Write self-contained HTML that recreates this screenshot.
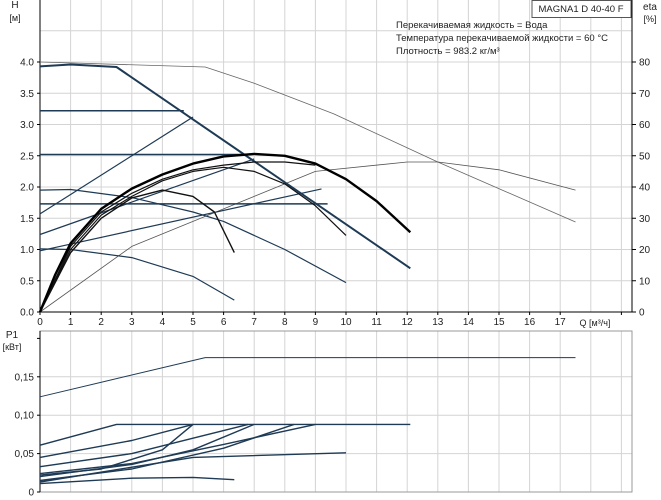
<!DOCTYPE html>
<html><head><meta charset="utf-8"><style>
body{margin:0;background:#fff;}
svg{display:block;font-family:"Liberation Sans",sans-serif;}
</style></head><body>
<svg id="c" width="661" height="500"></svg>
<script>
// ---- data ----
const qTicks=[0,1,2,3,4,5,6,7,8,9,10,11,12,13,14,15,16,17];
const hTicks=["0.0","0.5","1.0","1.5","2.0","2.5","3.0","3.5","4.0"];
const etaTicks=[0,10,20,30,40,50,60,70,80];
const pTicks=["0","0,05","0,10","0,15"];
const hMaxCurve=[[0,4.0],[5.4,3.92],[7,3.66],[9.6,3.17],[13,2.4],[17.5,1.44]];
const hDescCurve=[[0,3.93],[1,3.96],[2.5,3.92],[12.1,0.7]];
const hConst1=[[0,3.22],[4.7,3.22]];
const hConst2=[[0,2.52],[6.9,2.52]];
const hConst3=[[0,1.73],[9.4,1.73]];
const hProp1=[[0,1.57],[5,3.12]];
const hProp2=[[0,1.24],[7,2.45]];
const hProp3=[[0,0.98],[9.2,1.97]];
const hMin1=[[0,1.95],[1,1.96],[3,1.83],[5,1.6],[6,1.45],[8,1.0],[10,0.47]];
const hMin2=[[0,1.01],[1,1.0],[3,0.87],[5,0.57],[6.35,0.19]];
const etaA=[[0,0],[0.5,12],[1,22],[2,33],[3,39.5],[4,44],[5,47.5],[6,49.8],[7,50.6],[8,50],[9,47.5],[10,42.5],[11,35.5],[12.1,25.5]];
const etaB=[[0,0],[1,21],[2,32],[3,38],[4,42.5],[5,45.5],[6,47],[7,48],[8,48],[9,47]];
const etaC=[[0,0],[1,19],[2,30],[3,36.5],[4,39],[5,37],[5.7,32],[6.35,19]];
const etaD=[[0,0],[1,20],[2,31],[3,37],[4,42],[5,45],[6,46.3],[7,45],[8,41],[9,34],[10,24.5]];
const etaE=[[0,0],[3,21],[6,33],[9,45],[12,48],[13,48],[15,45.5],[17.5,39]];
const pMax=[[0,0.124],[5.4,0.175],[17.5,0.175]];
const p1=[[0,0.061],[2.5,0.088],[12.1,0.088]];
const p2=[[0,0.045],[3,0.067],[5,0.088]];
const p3=[[0,0.033],[3,0.05],[5,0.07],[6.8,0.088]];
const p4=[[0,0.024],[3,0.037],[6,0.062],[9,0.088]];
const p5=[[0,0.022],[2,0.03],[4,0.055],[5,0.088]];
const p6=[[0,0.02],[3,0.036],[5,0.055],[7,0.088]];
const p7=[[0,0.015],[3,0.03],[6,0.057],[8.3,0.088]];
const p8=[[0,0.013],[5,0.045],[10,0.051]];
const p9=[[0,0.011],[3,0.018],[5,0.019],[6.35,0.016]];

// ---- scales ----
const X0=40,XR=632,QPX=30.6;
const xq=q=>X0+q*QPX;
const yh=h=>312-h*62.5;
const ye=e=>312-e*3.125;
const yp=p=>492-p*768;
const NS="http://www.w3.org/2000/svg";
const svg=document.getElementById('c');
function mk(tag,attrs,parent){const e=document.createElementNS(NS,tag);for(const k in attrs)e.setAttribute(k,attrs[k]);(parent||svg).appendChild(e);return e;}
function txt(x,y,s,anchor,size,name){const t=mk('text',{x:x,y:y,'font-size':size||10,'text-anchor':anchor||'start',fill:'#222'});t.textContent=s;


return t;}

// grids
for(let i=0;i<=19;i++){const x=xq(i);
 const g=mk('line',{x1:x,y1:0,x2:x,y2:312,stroke:'#d4d4d4','stroke-width':1});
 
 
 const g2=mk('line',{x1:x,y1:331,x2:x,y2:492,stroke:'#d4d4d4','stroke-width':1});
 
 
}
for(let i=1;i<=10;i++){const y=yh(i*0.5);
 const g=mk('line',{x1:X0,y1:y,x2:XR,y2:y,stroke:'#d4d4d4','stroke-width':1});
 
 
}
for(let i=1;i<=3;i++){const y=yp(i*0.05);
 const g=mk('line',{x1:X0,y1:y,x2:XR,y2:y,stroke:'#d4d4d4','stroke-width':1});
 
 
}
// bottom frame
const fr=mk('rect',{x:X0,y:331,width:XR-X0,height:161,fill:'none',stroke:'#999','stroke-width':1});



// axes top
function ln(x1,y1,x2,y2,name,c,w){const l=mk('line',{x1,y1,x2,y2,stroke:c||'#000','stroke-width':w||1});

return l;}
ln(X0,0,X0,312,'h-axis');
ln(X0,312,XR,312,'q-axis');
ln(XR,0,XR,312,'eta-axis');
ln(X0,331,X0,492,'p1-axis');
hTicks.forEach((s,i)=>{const y=yh(i*0.5);ln(X0-3,y,X0,y,'h-tick');txt(X0-6,y+3.5,s,'end',10,'h-tick-label');});
etaTicks.forEach(v=>{const y=ye(v);ln(XR,y,XR+4,y,'eta-tick');txt(XR+7,y+3.5,String(v),'start',10,'eta-tick-label');});
qTicks.forEach(v=>{const x=xq(v);ln(x,312,x,315,'q-tick');txt(x,325,String(v),'middle',10,'q-tick-label');});
ln(xq(19),312,xq(19),315,'q-tick');
pTicks.forEach((s,i)=>{const y=yp(i*0.05);ln(X0-3,y,X0,y,'p1-tick');txt(X0-6,y+3.5,s,'end',10,'p1-tick-label');});
ln(X0-3,yp(0.2),X0,yp(0.2),'p1-tick');

txt(15,8,'H','middle',10,'h-axis-title');
txt(15,21,'[м]','middle',9,'h-axis-unit');
txt(650,10,'eta','middle',10,'eta-axis-title');
txt(650,22,'[%]','middle',9,'eta-axis-unit');
txt(595,326,'Q [м³/ч]','middle',9,'q-axis-title');
txt(12,338,'P1','middle',10,'p1-axis-title');
txt(12,350,'[кВт]','middle',9,'p1-axis-unit');

const box=mk('rect',{x:532,y:0.5,width:99,height:17,fill:'#fff',stroke:'#555','stroke-width':1});


txt(581,12,'MAGNA1 D 40-40 F','middle',9.5,'model-label');
txt(396,28,'Перекачиваемая жидкость = Вода','start',9.5,'info-liquid');
txt(396,41,'Температура перекачиваемой жидкости = 60 °C','start',9.5,'info-temperature');
txt(396,54,'Плотность = 983.2 кг/м³','start',9.5,'info-density');

function path(data,fx,fy,color,w,name){
 const d=data.map((p,i)=>(i?'L':'M')+fx(p[0]).toFixed(1)+','+fy(p[1]).toFixed(1)).join('');
 const p=mk('path',{d:d,fill:'none',stroke:color,'stroke-width':w,'stroke-linejoin':'round'});
 
 
}
const BL='#1e3a55';
path(hMaxCurve,xq,yh,'#666',0.8,'h-max-curve');
path(etaE,xq,ye,'#555',0.8,'eta-max-curve');
path(hConst1,xq,yh,BL,1.5,'h-const-curve-1');
path(hConst2,xq,yh,BL,1.5,'h-const-curve-2');
path(hConst3,xq,yh,BL,1.5,'h-const-curve-3');
path(hProp1,xq,yh,BL,1.2,'h-prop-curve-1');
path(hProp2,xq,yh,BL,1.2,'h-prop-curve-2');
path(hProp3,xq,yh,BL,1.2,'h-prop-curve-3');
path(hMin1,xq,yh,BL,1.2,'h-min-curve-1');
path(hMin2,xq,yh,BL,1.2,'h-min-curve-2');
path(hDescCurve,xq,yh,BL,2,'h-auto-curve');
path(etaB,xq,ye,'#111',1.2,'eta-curve-b');
path(etaC,xq,ye,'#111',1.4,'eta-curve-c');
path(etaD,xq,ye,'#111',1.2,'eta-curve-d');
path(etaA,xq,ye,'#000',2.4,'eta-curve-a');
path(pMax,xq,yp,BL,1,'p1-max-curve');
[p1,p2,p3,p4,p5,p6,p7,p8,p9].forEach((d,i)=>path(d,xq,yp,BL,1.4,'p1-curve-'+(i+1)));
</script>
</body></html>
